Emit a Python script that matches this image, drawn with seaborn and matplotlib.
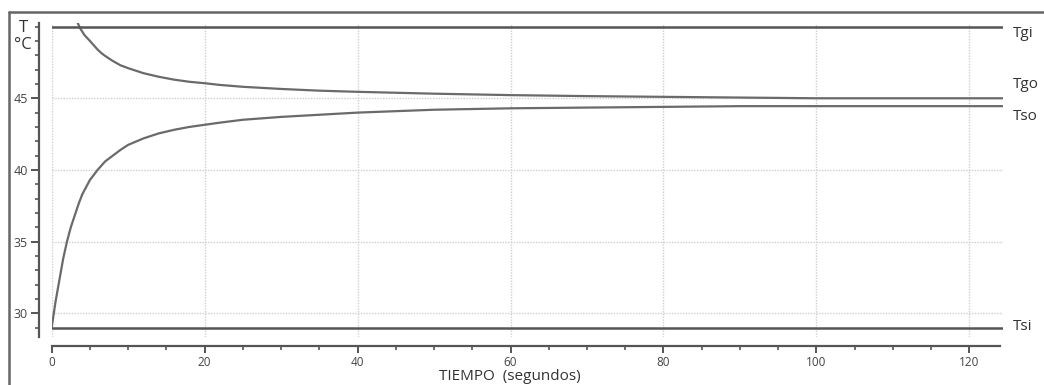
import pandas as pd
import numpy as np
import matplotlib
matplotlib.use("Agg")
import matplotlib.pyplot as plt
from matplotlib.lines import Line2D
from matplotlib.ticker import MultipleLocator, FixedLocator
import seaborn as sns

# ── DATA ────────────────────────────────────────────────────
t_tso = [0, 0.5, 1, 1.5, 2, 2.5, 3, 3.5, 4, 5, 6, 7, 8, 9, 10, 12, 14, 16, 18,
         20, 22, 25, 30, 35, 40, 50, 60, 70, 80, 90, 100, 110, 124.4]
tso = [29.0, 30.8, 32.3, 33.8, 35.0, 36.0, 36.8, 37.6, 38.3, 39.3, 40.0, 40.6,
       41.0, 41.4, 41.75, 42.2, 42.55, 42.8, 43.0, 43.15, 43.3, 43.5, 43.7,
       43.85, 44.0, 44.2, 44.3, 44.35, 44.4, 44.45, 44.45, 44.45, 44.45]

t_tgo = [3.2, 3.7, 4.3, 5, 5.5, 6, 6.5, 7, 8, 9, 10, 12, 14, 16, 18, 20, 22,
         25, 30, 35, 40, 50, 60, 70, 80, 90, 100, 110, 124.4]
tgo = [50.5, 49.9, 49.4, 49.0, 48.7, 48.4, 48.15, 47.95, 47.6, 47.3, 47.1,
       46.75, 46.5, 46.3, 46.15, 46.05, 45.93, 45.8, 45.65, 45.53, 45.45,
       45.32, 45.22, 45.15, 45.1, 45.05, 45.0, 45.0, 45.0]

t_const = [0, 124.4]
tgi = [50.0, 50.0]
tsi = [29.0, 29.0]

y_major = [30, 35, 40, 45]
labels = ['Tgi', 'Tgo', 'Tso', 'Tsi']
label_y = [49.55, 45.95, 43.75, 29.1]

# ── FIGURE ──────────────────────────────────────────────────
sns.set_style("ticks")
plt.rcParams['font.family'] = ['Open Sans', 'DejaVu Sans']

fig = plt.figure(figsize=(10.44, 3.85), dpi=100)
ax = fig.add_axes([0.0495, 0.1255, 0.9112, 0.814])

df_tso = pd.DataFrame({'t': t_tso, 'T': tso})
df_tgo = pd.DataFrame({'t': t_tgo, 'T': tgo})
df_tgi = pd.DataFrame({'t': t_const, 'T': tgi})
df_tsi = pd.DataFrame({'t': t_const, 'T': tsi})

sns.lineplot(data=df_tso, x='t', y='T', ax=ax, color='#6a6a6a', lw=1.6)
sns.lineplot(data=df_tgo, x='t', y='T', ax=ax, color='#6a6a6a', lw=1.6)
sns.lineplot(data=df_tgi, x='t', y='T', ax=ax, color='#555555', lw=1.8)
sns.lineplot(data=df_tsi, x='t', y='T', ax=ax, color='#555555', lw=1.8)

ax.set_xlim(0, 124.4)
ax.set_ylim(28.37, 50.23)
ax.set_xlabel('')
ax.set_ylabel('')

ax.xaxis.set_major_locator(MultipleLocator(20))
ax.xaxis.set_minor_locator(MultipleLocator(5))
ax.yaxis.set_major_locator(FixedLocator(y_major))
ax.yaxis.set_minor_locator(MultipleLocator(1))

ax.grid(True, which='major', color='#cfcfcf', linestyle=(0, (1, 1)), lw=1)
ax.set_axisbelow(True)

sns.despine(ax=ax, top=True, right=True)
ax.spines['left'].set_position(('outward', 9))
ax.spines['bottom'].set_position(('outward', 7))
for s in ['left', 'bottom']:
    ax.spines[s].set_color('#555555')
    ax.spines[s].set_linewidth(1.6)
ax.spines['bottom'].set_bounds(0, 124.0)

ax.tick_params(axis='both', which='major', direction='out', length=6,
               width=1.4, color='#555555', labelsize=9, labelcolor='#444444',
               bottom=True, left=True)
ax.tick_params(axis='both', which='minor', direction='out', length=3,
               width=1.2, color='#555555', bottom=True, left=True)
ax.tick_params(axis='y', which='major', pad=2)
ax.tick_params(axis='x', which='major', length=5, pad=2, labelsize=8.5)

for lab, yv in zip(labels, label_y):
    ax.text(125.7, yv, lab, fontsize=11, color='#333333', va='center',
            ha='left', clip_on=False)

fig.text(23 / 1044, 1 - 28 / 385, 'T', fontsize=12, color='#333333',
         ha='center', va='center')
fig.text(23 / 1044, 1 - 45 / 385, '°C', fontsize=12, color='#333333',
         ha='center', va='center')
fig.text(510 / 1044, 1 - 377 / 385, 'TIEMPO  (segundos)', fontsize=11,
         color='#333333', ha='center', va='center')

# outer frame
fig.add_artist(Line2D([9 / 1044, 1], [1 - 12 / 385, 1 - 12 / 385],
                      transform=fig.transFigure, color='#666666', lw=1.8))
fig.add_artist(Line2D([9 / 1044, 9 / 1044], [0, 1 - 12 / 385],
                      transform=fig.transFigure, color='#666666', lw=1.8))

fig.savefig('out.png', dpi=100)
